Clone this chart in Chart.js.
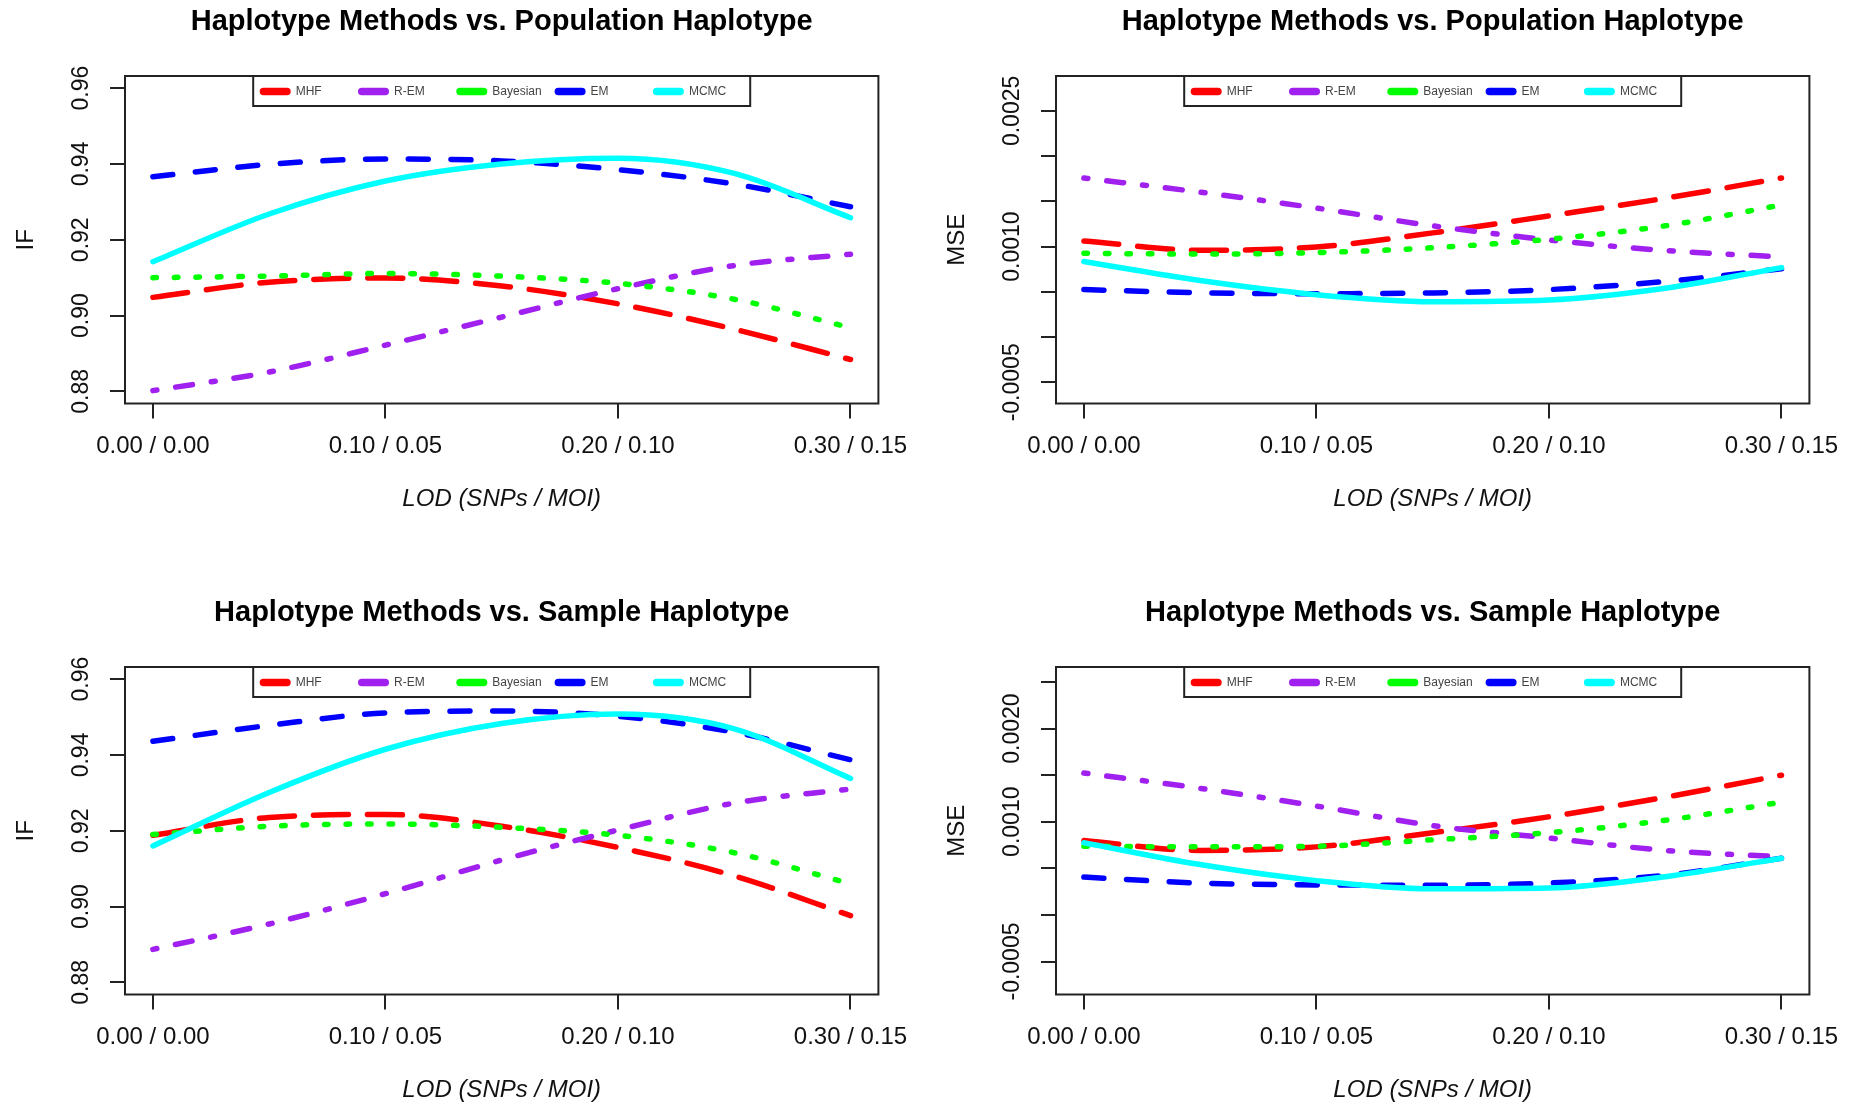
<!DOCTYPE html>
<html>
<head>
<meta charset="utf-8">
<script src="https://cdn.jsdelivr.net/npm/chart.js@4.4.0/dist/chart.umd.min.js"></script>
<style>
  html, body { margin: 0; padding: 0; background: #fff; overflow: hidden; }
  canvas { position: absolute; }
</style>
</head>
<body>
<canvas id="popIF" width="921" height="553" style="left:0;top:0"></canvas>
<canvas id="popMSE" width="921" height="553" style="left:931px;top:0"></canvas>
<canvas id="sampleIF" width="921" height="553" style="left:0;top:591px"></canvas>
<canvas id="sampleMSE" width="921" height="553" style="left:931px;top:591px"></canvas>
<script>
    // LOD valores (SNPs) en el eje x
    const xValues = [0, 0.05, 0.10, 0.15, 0.20, 0.25, 0.30];
    const xTicks = [0, 0.10, 0.20, 0.30];
    const xTickLabels = ['0.00 / 0.00', '0.10 / 0.05', '0.20 / 0.10', '0.30 / 0.15'];

    const methodNames = ['MHF', 'R-EM', 'Bayesian', 'EM', 'MCMC'];
    const methodColors = ['#FF0000', '#A020F0', '#00FF00', '#0000FF', '#00FFFF'];
    const methodDashes = [[35, 19], [4, 19, 17, 19], [3.5, 18], [20, 22.7], []];

    // Population haplotype - IF
    const popIF_MHF = [0.9048, 0.9088, 0.9099, 0.9078, 0.9031, 0.8964, 0.8884];
    const popIF_REM = [0.8802, 0.8851, 0.8922, 0.8996, 0.9071, 0.9132, 0.9162];
    const popIF_Bayes = [0.9100, 0.9104, 0.9111, 0.9104, 0.9085, 0.9043, 0.8968];
    const popIF_EM = [0.9366, 0.9399, 0.9413, 0.9408, 0.9385, 0.9347, 0.9287];
    const popIF_MCMC = [0.9142, 0.9268, 0.9355, 0.9400, 0.9415, 0.9375, 0.9258];

    // Population haplotype - MSE
    const popMSE_MHF = [0.001063, 0.000960, 0.000996, 0.001152, 0.001340, 0.001535, 0.001758];
    const popMSE_REM = [0.001758, 0.001602, 0.001426, 0.001230, 0.001074, 0.000957, 0.000887];
    const popMSE_Bayes = [0.000926, 0.000918, 0.000934, 0.000988, 0.001082, 0.001230, 0.001460];
    const popMSE_EM = [0.000525, 0.000490, 0.000480, 0.000488, 0.000525, 0.000615, 0.000755];
    const popMSE_MCMC = [0.000835, 0.000625, 0.000469, 0.000391, 0.000410, 0.000540, 0.000768];

    // Sample haplotype - IF
    const sampleIF_MHF = [0.9188, 0.9235, 0.9243, 0.9212, 0.9156, 0.9081, 0.8976];
    const sampleIF_REM = [0.8887, 0.8954, 0.9034, 0.9123, 0.9202, 0.9273, 0.9310];
    const sampleIF_Bayes = [0.9190, 0.9212, 0.9218, 0.9209, 0.9188, 0.9142, 0.9060];
    const sampleIF_EM = [0.9436, 0.9478, 0.9511, 0.9516, 0.9502, 0.9460, 0.9387];
    const sampleIF_MCMC = [0.9160, 0.9301, 0.9415, 0.9483, 0.9508, 0.9469, 0.9338];

    // Sample haplotype - MSE
    const sampleMSE_MHF = [0.000798, 0.000692, 0.000730, 0.000882, 0.001053, 0.001263, 0.001499];
    const sampleMSE_REM = [0.001522, 0.001358, 0.001168, 0.000958, 0.000825, 0.000692, 0.000623];
    const sampleMSE_Bayes = [0.000737, 0.000730, 0.000737, 0.000806, 0.000882, 0.001015, 0.001210];
    const sampleMSE_EM = [0.000406, 0.000342, 0.000322, 0.000319, 0.000342, 0.000425, 0.000608];
    const sampleMSE_MCMC = [0.000775, 0.000540, 0.000368, 0.000280, 0.000288, 0.000410, 0.000608];

    // Ejes y
    const ifTicks = [0.88, 0.90, 0.92, 0.94, 0.96];
    const ifTickLabels = ['0.88', '0.90', '0.92', '0.94', '0.96'];
    const mseTicks = [-0.0005, 0, 0.0005, 0.0010, 0.0015, 0.0020, 0.0025];
    const popMseTickLabels = ['-0.0005', '', '', '0.0010', '', '', '0.0025'];
    const sampleMseTickLabels = ['-0.0005', '', '', '0.0010', '', '0.0020', ''];

    const FONT = "'Liberation Sans', Arial, sans-serif";
    const CANVAS_W = 921, CANVAS_H = 553;
    const BOX_LEFT = 125, BOX_RIGHT = 878.4, BOX_BOTTOM = 403.5;

    // Marco del gráfico y leyenda estilo R
    const frameAndLegend = {
        id: 'frameAndLegend',
        afterDraw(chart) {
            const { ctx, chartArea: a } = chart;
            ctx.save();
            ctx.strokeStyle = '#222';
            ctx.lineWidth = 2;
            ctx.strokeRect(a.left, a.top, a.right - a.left, a.bottom - a.top);

            const w = 497, h = 30;
            const lx = (a.left + a.right) / 2 - w / 2, ly = a.top;
            ctx.strokeRect(lx, ly, w, h);
            ctx.font = '12px ' + FONT;
            ctx.textBaseline = 'middle';
            ctx.fillStyle = '#444';
            chart.data.datasets.forEach((ds, i) => {
                const sx = lx + 6.5 + i * 98.3, cy = ly + 15.5;
                ctx.strokeStyle = ds.borderColor;
                ctx.lineWidth = 7.5;
                ctx.lineCap = 'round';
                ctx.beginPath();
                ctx.moveTo(sx + 3.75, cy);
                ctx.lineTo(sx + 27.25, cy);
                ctx.stroke();
                ctx.fillText(ds.label, sx + 36, cy);
            });
            ctx.restore();
        }
    };

    function dibujarPanel(id, title, yTitle, series, yMin, yMax, yTicks, yTickLabels) {
        const m = document.createElement('canvas').getContext('2d');
        m.font = '23px ' + FONT;
        const widest = Math.max(...yTickLabels.map(t => m.measureText(t).width));
        const axisGrid = { drawOnChartArea: false, drawTicks: true, tickLength: 15, color: '#222', lineWidth: 2 };

        new Chart(document.getElementById(id), {
            type: 'line',
            data: {
                datasets: methodNames.map((name, i) => ({
                    label: name,
                    data: xValues.map((x, j) => ({ x: x, y: series[i][j] })),
                    borderColor: methodColors[i],
                    borderWidth: 5.5,
                    borderDash: methodDashes[i],
                    borderCapStyle: 'round',
                    borderJoinStyle: 'round',
                    pointRadius: 0,
                    cubicInterpolationMode: 'monotone',
                    fill: false,
                    order: methodNames.length - i
                }))
            },
            options: {
                responsive: false,
                animation: false,
                layout: { padding: { left: 0, top: 0, right: CANVAS_W - BOX_RIGHT, bottom: 0 } },
                plugins: {
                    legend: { display: false },
                    tooltip: { enabled: false },
                    title: {
                        display: true,
                        text: title,
                        fullSize: false,
                        color: '#000',
                        font: { family: FONT, size: 29, weight: 'bold' },
                        padding: { top: 4.6, bottom: 36.6 }
                    }
                },
                scales: {
                    x: {
                        type: 'linear',
                        min: -0.012,
                        max: 0.312,
                        bounds: 'data',
                        afterBuildTicks: s => { s.ticks = xTicks.map(v => ({ value: v })); },
                        afterFit: s => { s.height = CANVAS_H - BOX_BOTTOM; s.paddingLeft = 0; s.paddingRight = 0; },
                        ticks: {
                            callback: (v, i) => xTickLabels[i],
                            font: { family: FONT, size: 24 },
                            color: '#111',
                            padding: 13.4,
                            maxRotation: 0,
                            autoSkip: false
                        },
                        grid: axisGrid,
                        border: { display: false },
                        title: {
                            display: true,
                            text: 'LOD (SNPs / MOI)',
                            color: '#111',
                            font: { family: FONT, size: 24, style: 'italic' },
                            padding: { top: 0, bottom: 39.4 }
                        }
                    },
                    y: {
                        type: 'linear',
                        min: yMin,
                        max: yMax,
                        bounds: 'data',
                        afterBuildTicks: s => { s.ticks = yTicks.map(v => ({ value: v })); },
                        afterFit: s => { s.width = BOX_LEFT; s.paddingTop = 0; s.paddingBottom = 0; },
                        ticks: {
                            callback: (v, i) => yTickLabels[i],
                            font: { family: FONT, size: 23 },
                            color: '#111',
                            minRotation: 90,
                            maxRotation: 90,
                            crossAlign: 'center',
                            padding: 28 - widest / 2,
                            autoSkip: false
                        },
                        grid: axisGrid,
                        border: { display: false },
                        title: {
                            display: true,
                            text: yTitle,
                            color: '#111',
                            font: { family: FONT, size: 24 },
                            padding: { top: 12.2, bottom: 0 }
                        }
                    }
                }
            },
            plugins: [frameAndLegend]
        });
    }

    dibujarPanel('popIF', 'Haplotype Methods vs. Population Haplotype', 'IF',
        [popIF_MHF, popIF_REM, popIF_Bayes, popIF_EM, popIF_MCMC],
        0.8768, 0.9632, ifTicks, ifTickLabels);
    dibujarPanel('popMSE', 'Haplotype Methods vs. Population Haplotype', 'MSE',
        [popMSE_MHF, popMSE_REM, popMSE_Bayes, popMSE_EM, popMSE_MCMC],
        -0.000734, 0.002886, mseTicks, popMseTickLabels);
    dibujarPanel('sampleIF', 'Haplotype Methods vs. Sample Haplotype', 'IF',
        [sampleIF_MHF, sampleIF_REM, sampleIF_Bayes, sampleIF_EM, sampleIF_MCMC],
        0.8768, 0.9632, ifTicks, ifTickLabels);
    dibujarPanel('sampleMSE', 'Haplotype Methods vs. Sample Haplotype', 'MSE',
        [sampleMSE_MHF, sampleMSE_REM, sampleMSE_Bayes, sampleMSE_EM, sampleMSE_MCMC],
        -0.000854, 0.00266, mseTicks, sampleMseTickLabels);
</script>
</body>
</html>
